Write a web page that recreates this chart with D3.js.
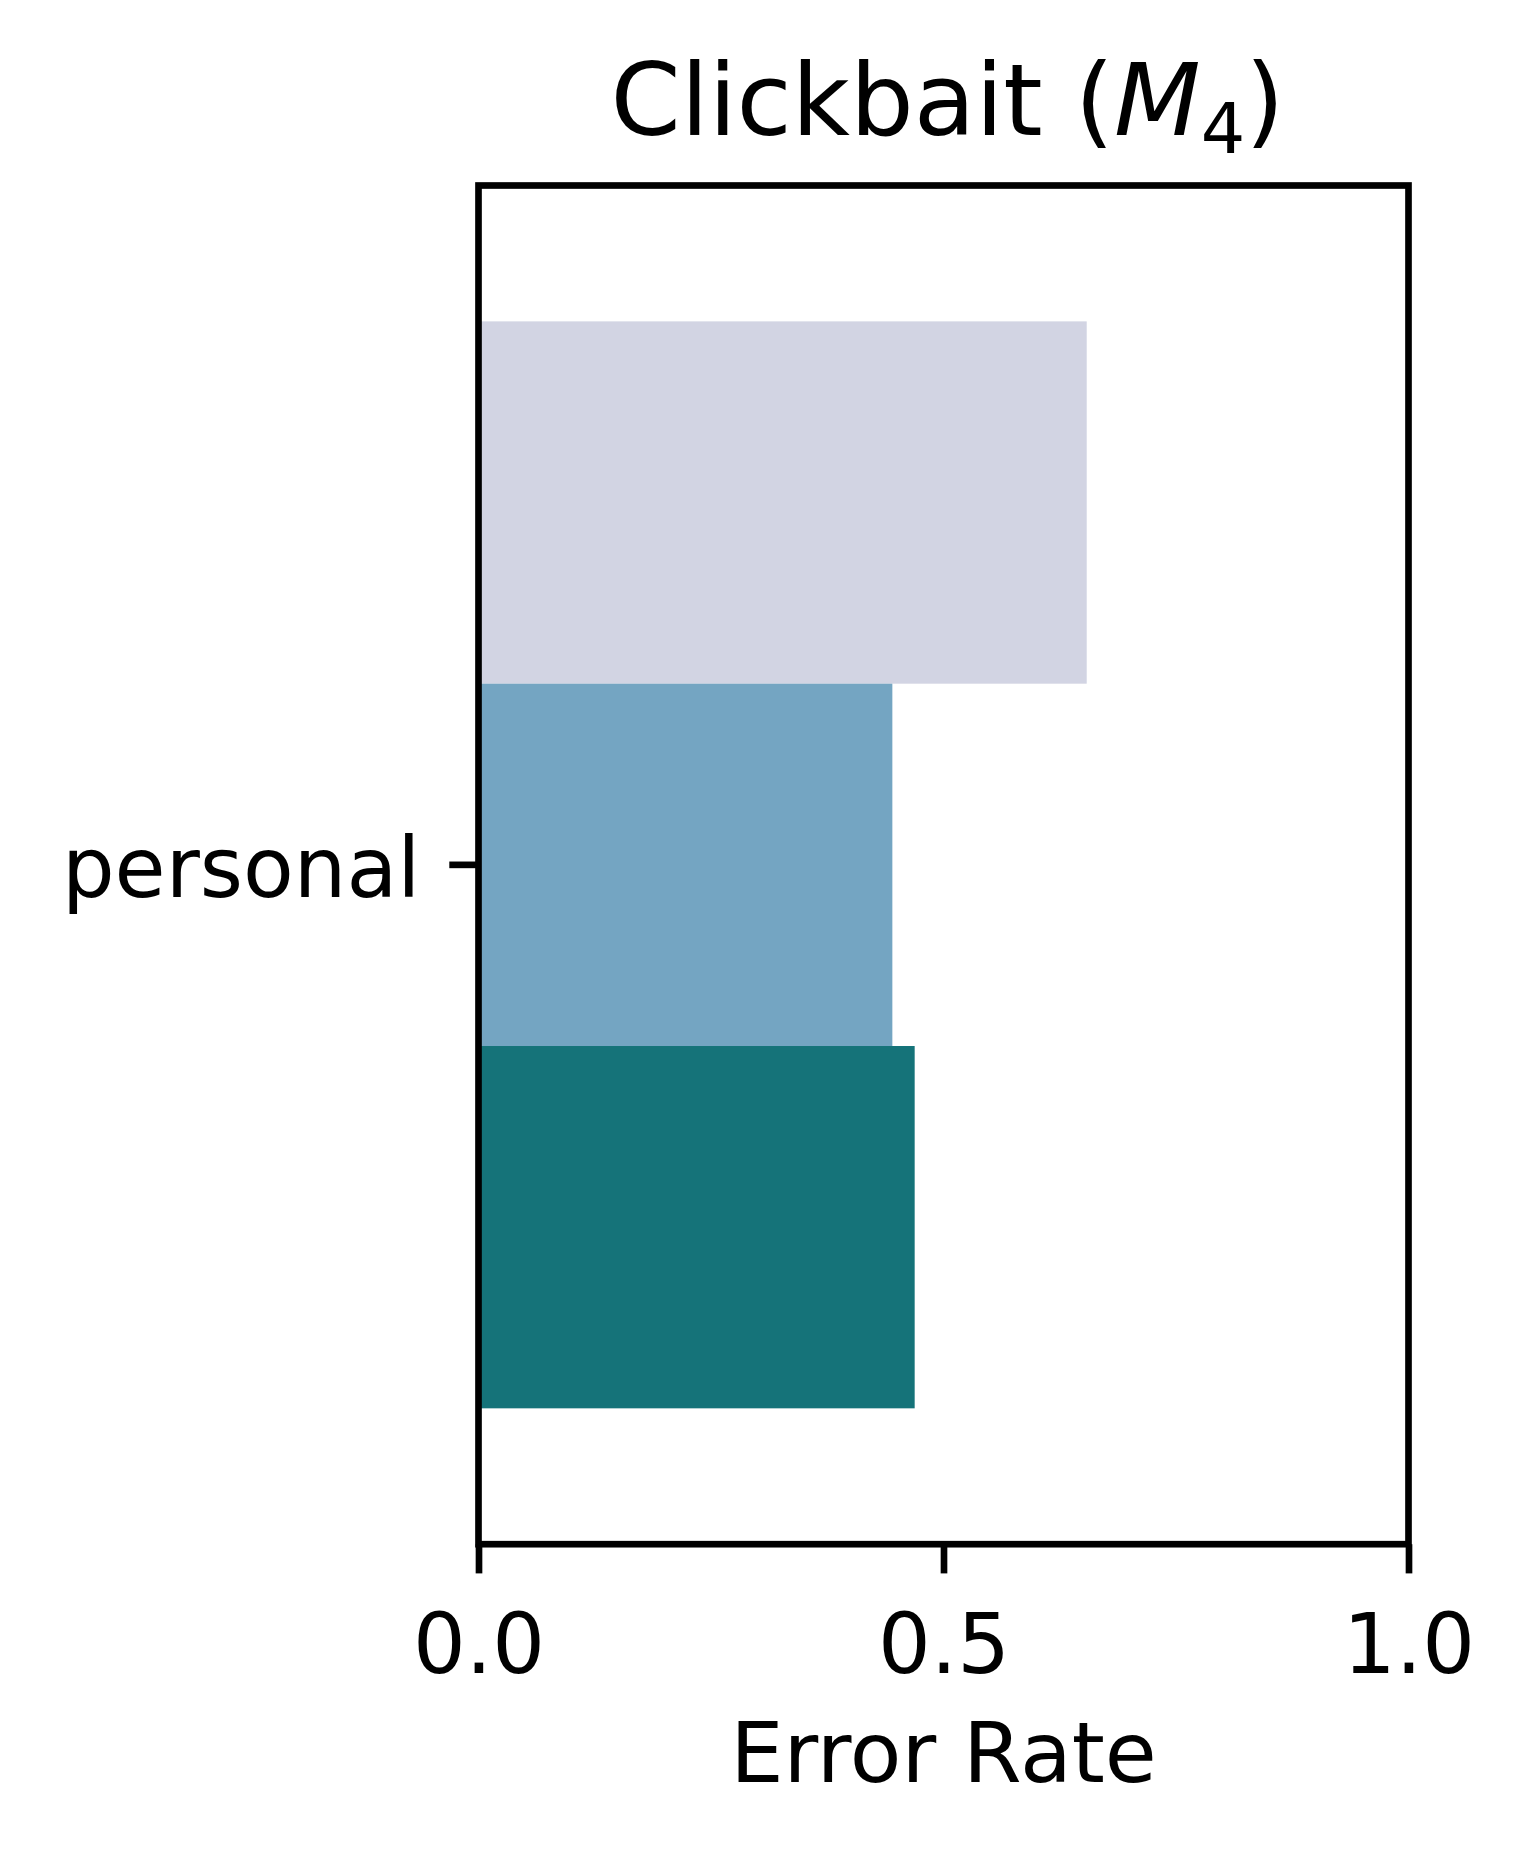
<!DOCTYPE html>
<html>
<head>
<meta charset="utf-8">
<script src="https://cdn.jsdelivr.net/npm/d3@7"></script>
<style>
  html, body { margin: 0; padding: 0; background: #fff; }
  svg { display: block; }
  text { font-family: "DejaVu Sans", sans-serif; fill: #000; }
</style>
</head>
<body>
<svg id="chart" width="1534" height="1858"></svg>
<script>
// ---- data ----
const categories = ["personal"];
const series = ["s1", "s2", "s3"];
const values = [0.654, 0.445, 0.469];          // error rate per series for "personal"
const colors = ["#d2d4e3", "#74a5c2", "#157379"];
const xTicks = [0.0, 0.5, 1.0];
const xTickLabels = ["0.0", "0.5", "1.0"];

(function () {
  // ---- layout ----
  const mLeft = 478.5, mRight = 1408.5, mTop = 185.5, mBottom = 1544.2;
  const lw = 6.67;           // 0.8pt at 600dpi
  const tickLen = 29.2;

  const svg = d3.select("#chart");

  const x = d3.scaleLinear().domain([0, 1]).range([mLeft, mRight]);
  // categorical axis like seaborn: category i spans [i-0.5, i+0.5], top to bottom
  const yc = d3.scaleLinear().domain([-0.5, categories.length - 0.5]).range([mTop, mBottom]);
  const groupW = 0.8, barH = groupW / series.length;

  // bars
  categories.forEach((c, ci) => {
    svg.append("g").selectAll("rect")
      .data(values)
      .join("rect")
      .attr("x", x(0))
      .attr("y", (d, i) => yc(ci - groupW / 2 + i * barH))
      .attr("width", d => x(d) - x(0))
      .attr("height", yc(barH) - yc(0))
      .attr("fill", (d, i) => colors[i]);
  });

  // x axis
  const xAxis = d3.axisBottom(x)
    .tickValues(xTicks)
    .tickFormat((d, i) => xTickLabels[i])
    .tickSize(tickLen)
    .tickPadding(29);
  const gx = svg.append("g").attr("transform", `translate(0,${mBottom})`).call(xAxis);
  gx.select(".domain").remove();
  gx.selectAll(".tick line").attr("stroke", "#000").attr("stroke-width", lw);
  gx.selectAll(".tick text")
    .attr("y", 129).attr("dy", null)
    .style("font-size", "83px")
    .style("font-family", "DejaVu Sans, sans-serif");

  // y axis
  const yBand = d3.scaleBand().domain(categories).range([mTop, mBottom]);
  const yAxis = d3.axisLeft(yBand).tickSize(tickLen).tickPadding(29);
  const gy = svg.append("g").attr("transform", `translate(${mLeft},0)`).call(yAxis);
  gy.select(".domain").remove();
  gy.selectAll(".tick line").attr("stroke", "#000").attr("stroke-width", lw);
  gy.selectAll(".tick text")
    .attr("dy", null)
    .attr("y", 32)
    .style("font-size", "83px")
    .style("font-family", "DejaVu Sans, sans-serif");

  // frame (spines)
  svg.append("rect")
    .attr("x", mLeft).attr("y", mTop)
    .attr("width", mRight - mLeft).attr("height", mBottom - mTop)
    .attr("fill", "none").attr("stroke", "#000").attr("stroke-width", lw)
    .attr("stroke-linejoin", "miter");

  // x label
  svg.append("text")
    .attr("x", (mLeft + mRight) / 2).attr("y", 1782)
    .attr("text-anchor", "middle")
    .style("font-size", "84.5px")
    .text("Error Rate");

  // title
  const t = svg.append("text")
    .attr("x", (mLeft + mRight) / 2 + 4).attr("y", 135)
    .attr("text-anchor", "middle")
    .style("font-size", "100.5px");
  t.append("tspan").text("Clickbait (");
  t.append("tspan").style("font-style", "italic").text("M");
  t.append("tspan").attr("dy", 18).style("font-size", "70px").text("4");
  t.append("tspan").attr("dy", -18).text(")");
})();
</script>
</body>
</html>
